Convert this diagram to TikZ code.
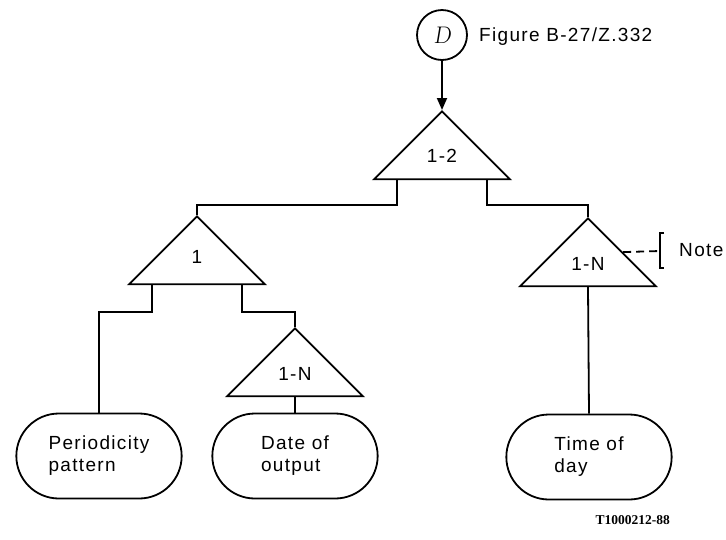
\documentclass[tikz,border=0pt]{standalone}
\usepackage{fontspec}
\newfontfamily\diagfont[LetterSpace=7]{Liberation Sans}
\newfontfamily\tagfont{Liberation Serif}
\usetikzlibrary{arrows.meta,positioning,calc,shapes.geometric,shapes.misc}

\begin{document}
\begin{tikzpicture}[x=1pt, y=-1pt, font=\diagfont\fontsize{19}{22}\selectfont, >={Triangle[length=12pt,width=10pt]}, line width=1.8pt,
  refnode/.style={draw, circle, minimum size=50pt, inner sep=0pt, font=\rmfamily\fontsize{24}{24}\selectfont\slshape},
  choice/.style={draw, isosceles triangle, isosceles triangle apex angle=90, isosceles triangle stretches, shape border rotate=90, minimum width=136pt, minimum height=68pt, inner sep=0pt, anchor=apex},
  leaf/.style={draw, rounded rectangle, minimum width=172pt, minimum height=85pt, align=left},
  link/.style={draw},
  arrow/.style={->}]
  \useasboundingbox (0,0) rectangle (726,539);
  \node[refnode] (entry) at (442,35) {D};
  \node[anchor=west] (figref) at (475,37) {Figure B-27/Z.332};
  \node[choice] (both) at (442,110) {1-2};
  \node[choice] (once) at (197,215) {1};
  \node[choice] (dates) at (295,327) {1-N};
  \node[choice] (times) at (588,217) {1-N};
  \node[leaf] (period) at (99,456) {Periodicity\\pattern};
  \node[leaf] (date) at (295,456) {Date of\\output};
  \node[leaf] (time) at (589,457) {Time of\\day};
  \node[anchor=west] (note) at (675,250) {Note};
  \node[anchor=east, font=\tagfont\bfseries\fontsize{13.5}{14}\selectfont] (tag) at (674,520) {T1000212-88};

  \draw[arrow] (entry) -- (both.apex);
  \draw[link] ($(both.left corner)!.18!(both.right corner)$) -- ++(0,25) -| (once.apex);
  \draw[link] ($(both.left corner)!.82!(both.right corner)$) -- ++(0,25) -| (times.apex);
  \draw[link] ($(once.left corner)!.18!(once.right corner)$) -- ++(0,27) -| (period.north);
  \draw[link] ($(once.left corner)!.82!(once.right corner)$) -- ++(0,27) -| (dates.apex);
  \draw[link] (dates.lower side) -- (date.north);
  \draw[link] (times.lower side) -- (time.north);
  % note bracket
  \coordinate (brk) at (660,251);
  \draw[link, dash pattern=on 8pt off 5pt] (times.right side) -- (brk);
  \draw[link] ($(brk)+(4,-18)$) -- ++(-4,0) -- ++(0,35) -- ++(4,0);
\end{tikzpicture}
\end{document}
